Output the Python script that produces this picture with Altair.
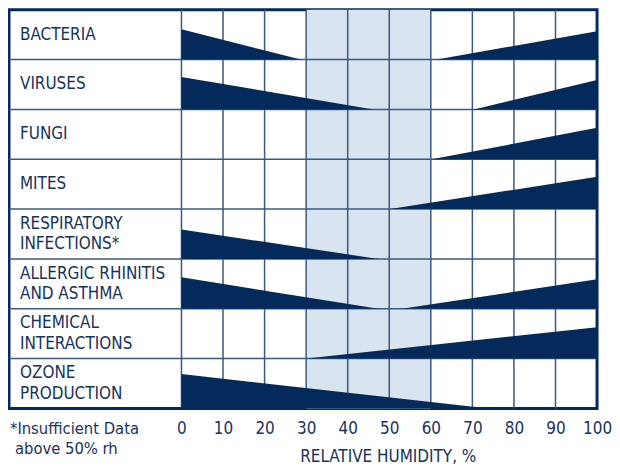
import altair as alt
import pandas as pd

categories = ["BACTERIA", "VIRUSES", "FUNGI", "MITES", "RESPIRATORY\nINFECTIONS*",
              "ALLERGIC RHINITIS\nAND ASTHMA", "CHEMICAL\nINTERACTIONS", "OZONE\nPRODUCTION"]
# left wedge: full height at 0 % rh, tapering to zero at left_end
left_end = [28.7, 46.2, None, None, 47.4, 47.4, None, 74.0]
left_height = [0.61, 0.65, None, None, 0.59, 0.63, None, 0.69]
# right wedge: zero at right_start, full height at 100 % rh
right_start = [61.4, 70.4, 60.2, 50.2, None, 53.0, 30.1, None]
right_height = [0.57, 0.59, 0.63, 0.65, None, 0.59, 0.63, None]

tick_values = [0, 10, 20, 30, 40, 50, 60, 70, 80, 90, 100]
optimal_band = [30, 60]
footnote = ["*Insufficient Data", "above 50% rh"]
x_title = "RELATIVE HUMIDITY, %"

NAVY = "#032a5a"
TEXT = "#17335d"
GRID = "#3a5882"
BAND = "#d9e4f1"
FONT = "DejaVu Sans Condensed, Liberation Sans Narrow, sans-serif"
XMIN, XMAX = -41.5, 100
W, H = 590, 400
n = len(categories)
row_px = H / n

rows = []
for i in range(n):
    bottom = n - 1 - i
    if left_end[i] is not None:
        rows.append({"w": f"L{i}", "x": 0, "y": bottom + left_height[i], "y2": bottom})
        rows.append({"w": f"L{i}", "x": left_end[i], "y": bottom, "y2": bottom})
    if right_start[i] is not None:
        rows.append({"w": f"R{i}", "x": right_start[i], "y": bottom, "y2": bottom})
        rows.append({"w": f"R{i}", "x": 100, "y": bottom + right_height[i], "y2": bottom})
wedges = pd.DataFrame(rows)

label_rows = []
for i, c in enumerate(categories):
    lines = c.split("\n")
    centre = n - 0.5 - i
    for k, t in enumerate(lines):
        off = (k - (len(lines) - 1) / 2) * 20.5 / row_px
        label_rows.append({"t": t, "y": centre - off})
label_df = pd.DataFrame(label_rows)

xs = alt.Scale(domain=[XMIN, XMAX], nice=False, zero=False)
ys = alt.Scale(domain=[0, n], nice=False, zero=False)

xaxis = alt.Axis(values=tick_values, grid=False, ticks=False, domain=False,
                 labelFont=FONT, labelFontSize=17, labelColor=TEXT,
                 labelBaseline="middle", labelPadding=20, labelFlush=False,
                 title=x_title, titleFont=FONT, titleFontSize=17, titleColor=TEXT,
                 titleFontWeight="normal", titleX=380, titleY=48,
                 titleBaseline="middle", titleAlign="center", titleAnchor="start")

band = alt.Chart(pd.DataFrame({"a": [optimal_band[0]], "b": [optimal_band[1]]})).mark_rect(
    color=BAND).encode(
    x=alt.X("a:Q", scale=xs, axis=xaxis), x2="b:Q",
    y=alt.value(0), y2=alt.value(H))

vgrid = alt.Chart(pd.DataFrame({"x": tick_values[:-1]})).mark_rule(
    color=GRID, strokeWidth=1.5).encode(
    x=alt.X("x:Q", scale=xs), y=alt.value(0), y2=alt.value(H))

hgrid = alt.Chart(pd.DataFrame({"y": list(range(1, n))})).mark_rule(
    color=GRID, strokeWidth=1.5).encode(
    y=alt.Y("y:Q", scale=ys, axis=None), x=alt.value(0), x2=alt.value(W))

area = alt.Chart(wedges).mark_area(color=NAVY, opacity=1, interpolate="linear").encode(
    x=alt.X("x:Q", scale=xs), y=alt.Y("y:Q", scale=ys, axis=None), y2="y2:Q",
    detail="w:N")

labels = alt.Chart(label_df).mark_text(
    align="left", baseline="middle", font=FONT, fontSize=17, color=TEXT).encode(
    x=alt.value(11), y=alt.Y("y:Q", scale=ys), text="t:N")

foot = alt.Chart(pd.DataFrame({"t": footnote, "px": [1, 6], "py": [421, 441]})).mark_text(
    align="left", baseline="middle", font=FONT, fontSize=16.5, color=TEXT).encode(
    x=alt.X("px:Q", scale=None), y=alt.Y("py:Q", scale=None), text="t:N")

chart = alt.layer(band, vgrid, hgrid, area, labels, foot).properties(
    width=W, height=H, padding=0
).configure_view(stroke=NAVY, strokeWidth=3)

chart.save("out.html", embed_options={"renderer": "svg", "actions": False})
